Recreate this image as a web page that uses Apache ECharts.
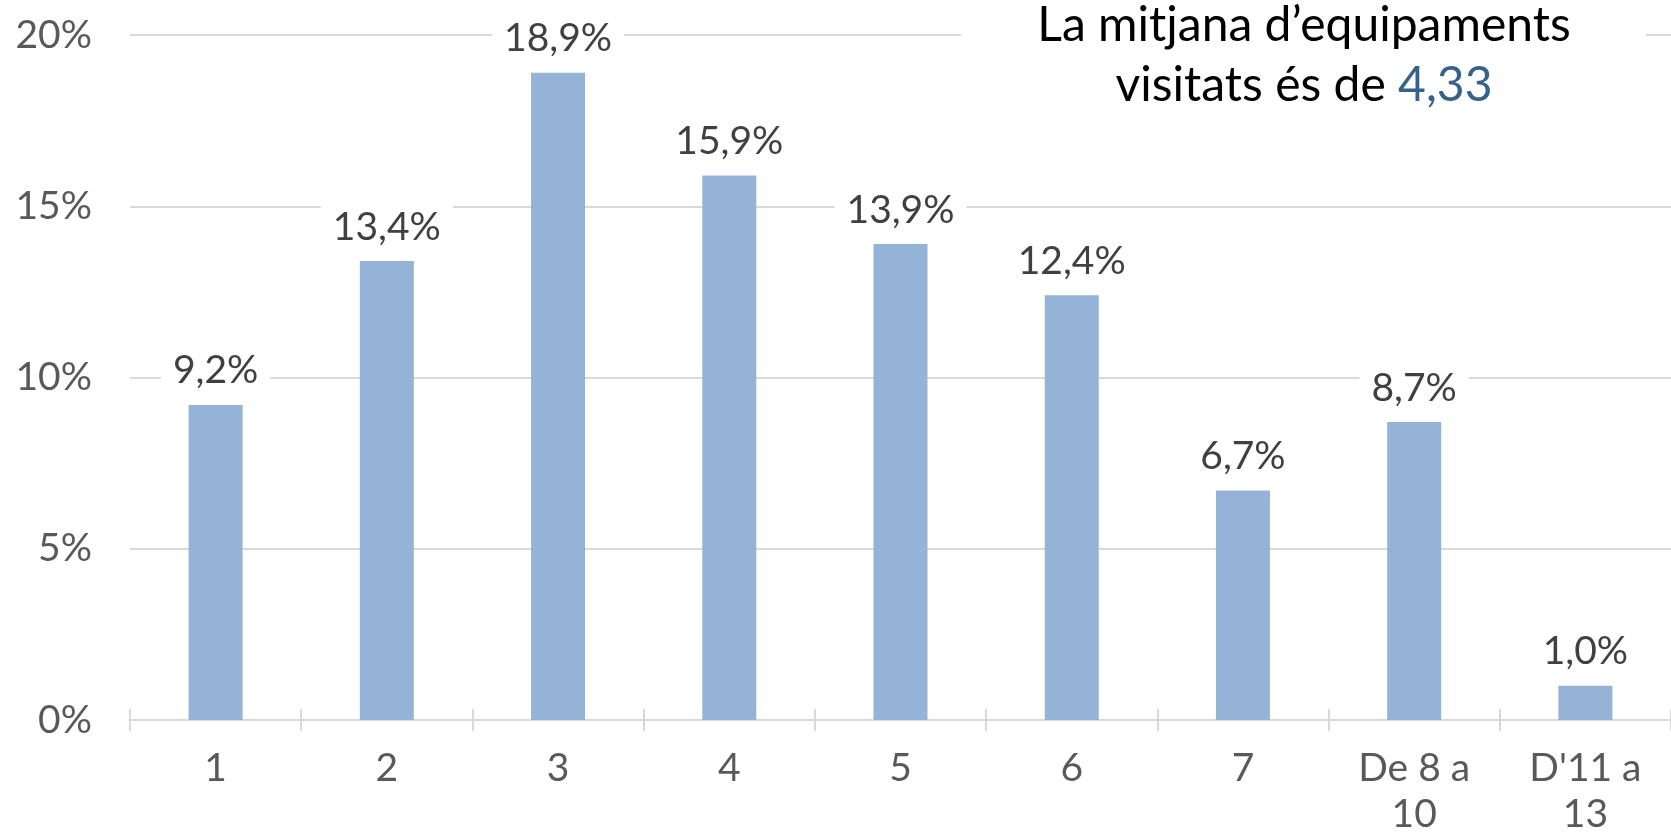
<!DOCTYPE html>
<html>
<head>
<meta charset="utf-8">
<script src="https://cdn.jsdelivr.net/npm/echarts@6/dist/echarts.min.js"></script>
<style>
html,body{margin:0;padding:0;background:#fff;}
#chart{width:1671px;height:837px;}
</style>
</head>
<body>
<div id="chart"></div>
<script>
const categories = ['1', '2', '3', '4', '5', '6', '7', 'De 8 a 10', "D'11 a 13"];
const percentages = [9.2, 13.4, 18.9, 15.9, 13.9, 12.4, 6.7, 8.7, 1.0];
const yTicks = [0, 5, 10, 15, 20];
const titleLine1 = 'La mitjana d’equipaments';
const titleLine2 = 'visitats és de ';
const meanValue = '4,33';

const FONT = 'Lato, "Open Sans", sans-serif';
const chart = echarts.init(document.getElementById('chart'), null, {renderer: 'canvas'});

const fmtPct = v => v.toFixed(1).replace('.', ',') + '%';

chart.setOption({
  animation: false,
  backgroundColor: '#ffffff',
  grid: {left: 130, right: -9, top: 35, bottom: 108, containLabel: false},
  xAxis: [{
    type: 'category',
    data: categories,
    position: 'bottom',
    axisLine: {show: true, lineStyle: {color: '#d9d9d9', width: 2}},
    axisTick: {show: true, length: 11, lineStyle: {color: '#d9d9d9', width: 2}},
    axisLabel: {
      color: '#595959', fontFamily: FONT, fontSize: 39, lineHeight: 46, margin: 25,
      formatter: v => v.replace(/ a /, ' a\n')
    }
  }, {
    type: 'category',
    data: categories,
    position: 'bottom',
    axisLine: {show: false},
    axisTick: {show: true, inside: true, length: 11, lineStyle: {color: '#d9d9d9', width: 2}},
    axisLabel: {show: false}
  }],
  yAxis: {
    type: 'value',
    min: yTicks[0],
    max: yTicks[yTicks.length - 1],
    interval: yTicks[1] - yTicks[0],
    axisLine: {show: false},
    axisTick: {show: false},
    splitLine: {lineStyle: {color: '#d9d9d9', width: 2}},
    axisLabel: {color: '#595959', fontFamily: FONT, fontSize: 39, margin: 38, formatter: '{value}%'}
  },
  series: [{
    type: 'bar',
    xAxisIndex: 0,
    data: percentages,
    barWidth: 54,
    itemStyle: {color: '#95B3D7'},
    label: {
      show: true, position: 'top', distance: 12,
      color: '#404040', fontFamily: FONT, fontSize: 39, lineHeight: 40,
      backgroundColor: '#ffffff', padding: [2, 12, 2, 12],
      formatter: p => fmtPct(p.value)
    }
  }],
  graphic: [{
    type: 'rect',
    z: 100,
    shape: {x: 961, y: 0, width: 685, height: 120},
    style: {fill: '#ffffff'}
  }, {
    type: 'text',
    z: 101,
    x: 1304,
    y: -4,
    style: {
      text: '{a|' + titleLine1 + '}\n{a|' + titleLine2 + '}{b|' + meanValue + '}',
      align: 'center',
      verticalAlign: 'top',
      rich: {
        a: {fontFamily: FONT, fontSize: 48, lineHeight: 60, fill: '#000000', color: '#000000'},
        b: {fontFamily: FONT, fontSize: 48, lineHeight: 60, fill: '#35618a', color: '#35618a'}
      }
    }
  }]
});
</script>
</body>
</html>
